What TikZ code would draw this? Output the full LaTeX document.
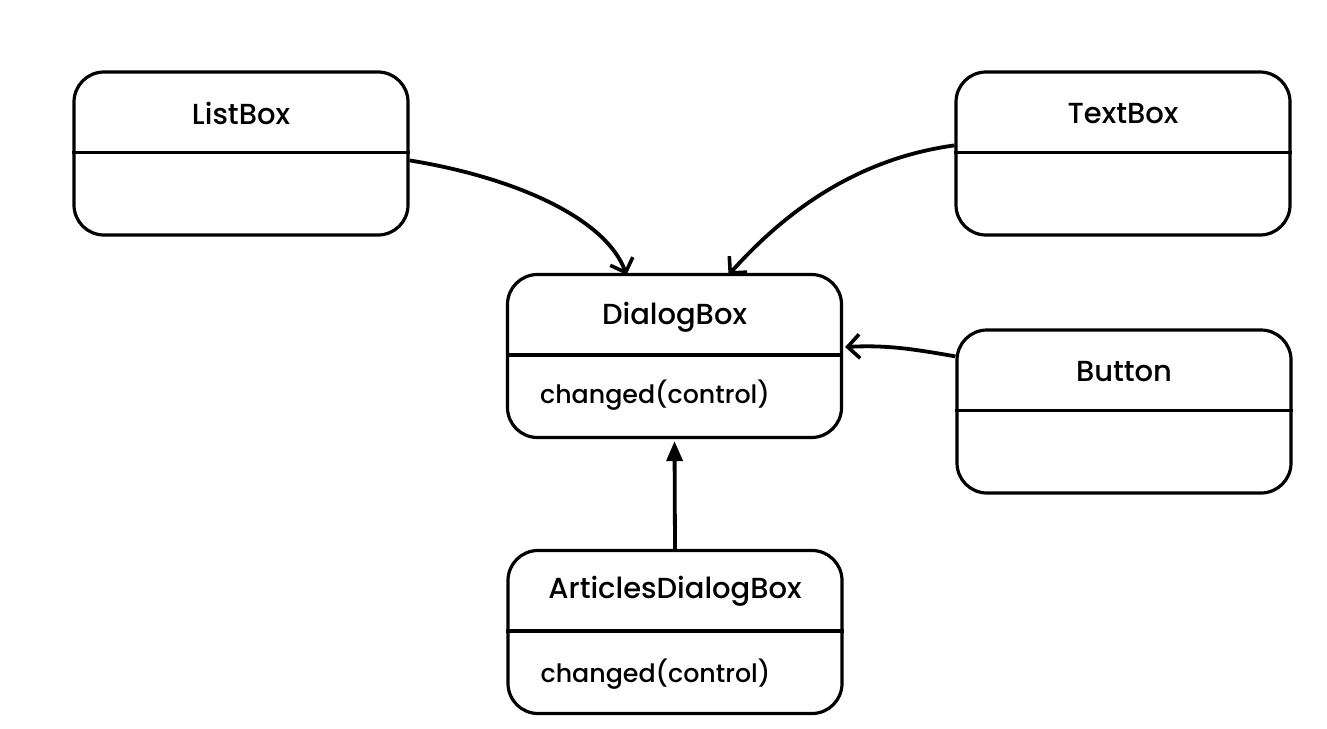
\documentclass[tikz,border=0pt]{standalone}
\usepackage{fontspec}
\setmainfont{Poppins Medium}
\usetikzlibrary{arrows.meta}
\begin{document}
\begin{tikzpicture}[x=1pt,y=-1pt,
  cls/.style={draw, line width=3.2pt, rounded corners=30pt, minimum width=334pt, minimum height=163pt, inner sep=0pt},
  divider/.style={line width=3.2pt},
  ttl/.style={font=\fontsize{29}{34}\selectfont, inner sep=0pt},
  op/.style={font=\fontsize{25.3}{30}\selectfont, inner sep=0pt, anchor=west},
  openarr/.style={line width=3.8pt, -{Straight Barb[length=12pt,width=24pt,line width=3.6pt]}},
  filarr/.style={line width=3.8pt, -{Triangle[length=20pt,width=16pt]}}]
\useasboundingbox (0,0) rectangle (1327,728);
% boxes
\node[cls] (listbox) at (241,153.5) {};
\node[cls] (textbox) at (1123,153.5) {};
\node[cls] (dialog) at (674.5,356) {};
\node[cls] (button) at (1124,411.5) {};
\node[cls] (articles) at (675,632) {};
% dividers
\foreach \b in {listbox,textbox,dialog,button,articles}{
  \draw[divider] ([yshift=-82pt]\b.north west) -- ([yshift=-82pt]\b.north east);
}
% titles
\node[ttl] (listboxT) at ([yshift=-43pt]listbox.north) {ListBox};
\node[ttl] (textboxT) at ([yshift=-43pt]textbox.north) {TextBox};
\node[ttl] (dialogT) at ([yshift=-44pt]dialog.north) {DialogBox};
\node[ttl] (buttonT) at ([yshift=-43pt]button.north) {Button};
\node[ttl] (articlesT) at ([yshift=-42pt]articles.north) {ArticlesDialogBox};
% operations
\node[op] (dialogOp) at ([xshift=34pt,yshift=-122pt]dialog.north west) {changed(control)};
\node[op] (articlesOp) at ([xshift=34pt,yshift=-125pt]articles.north west) {changed(control)};
% connectors
\draw[openarr] ([yshift=-90pt]listbox.north east) .. controls +(110,18) and +(-20,-55) .. ([xshift=-48pt,yshift=-2pt]dialog.north);
\draw[openarr] ([yshift=-75pt]textbox.north west) .. controls +(-110,15) and +(45,-50) .. ([xshift=54pt,yshift=-2pt]dialog.north);
\draw[openarr] ([yshift=-28pt]button.north west) .. controls +(-45,-8) and +(40,-2) .. ([xshift=2pt,yshift=9pt]dialog.east);
\draw[filarr] (articles.north) -- ([yshift=-2pt]dialog.south);
\end{tikzpicture}
\end{document}
